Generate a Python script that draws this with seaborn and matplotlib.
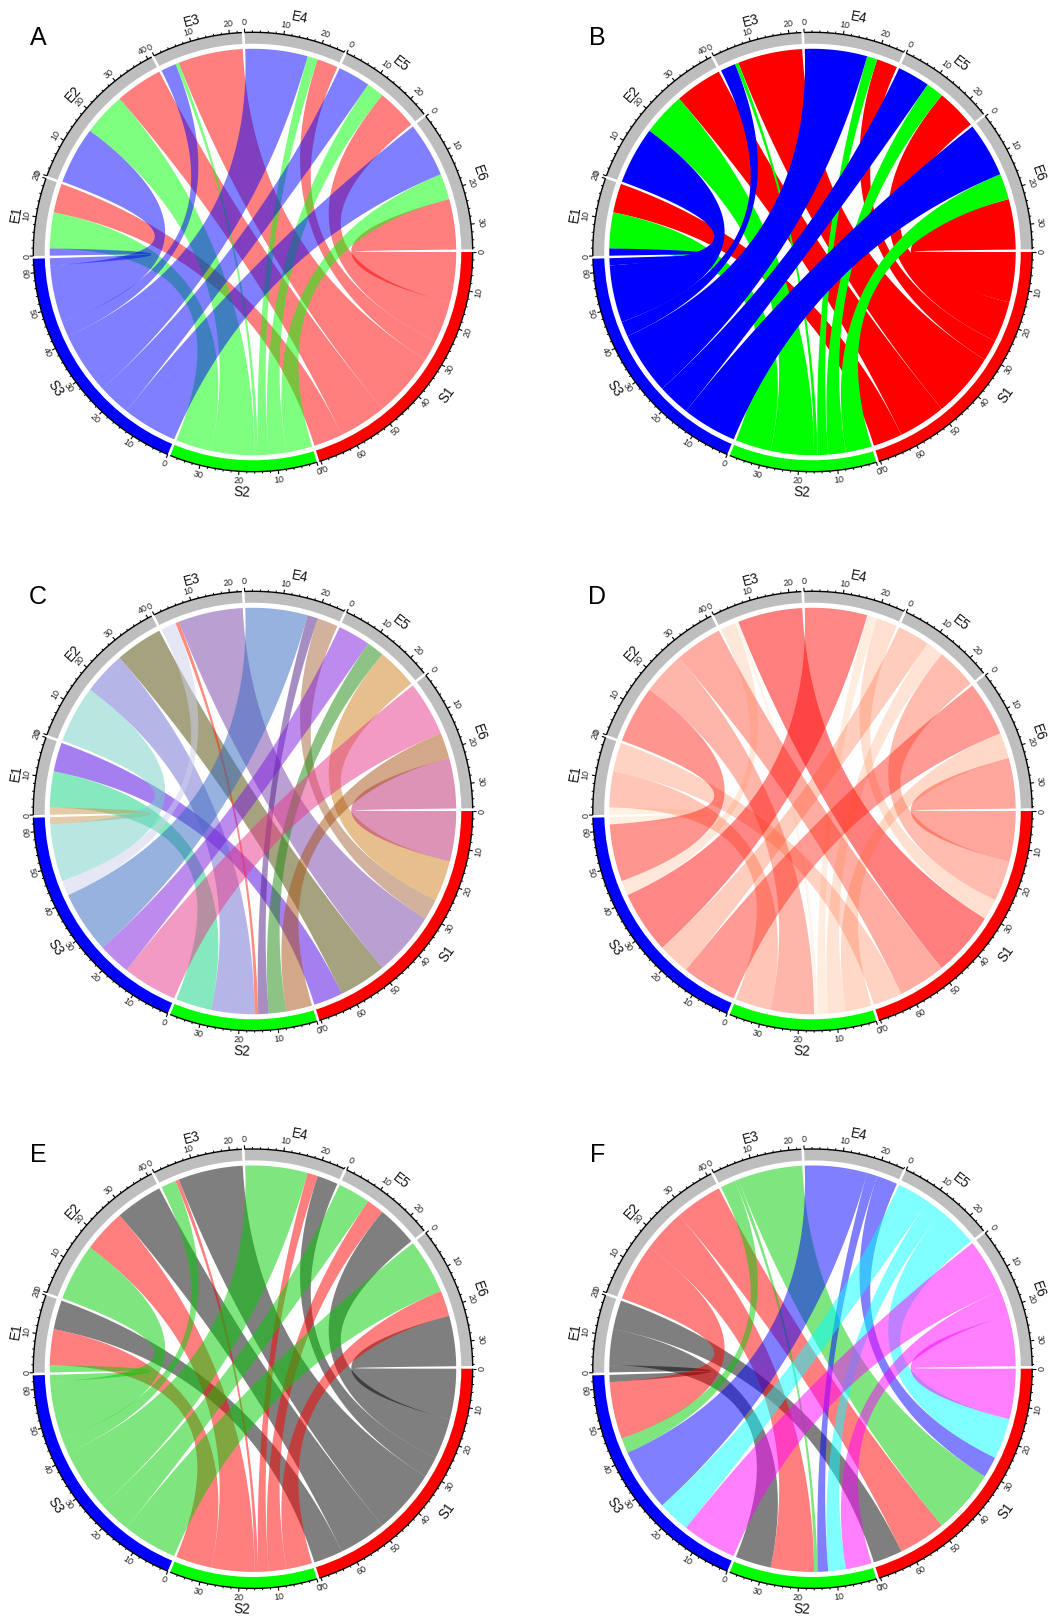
import numpy as np
import matplotlib
matplotlib.use("Agg")
import matplotlib.pyplot as plt
from matplotlib.patches import PathPatch, Wedge
from matplotlib.path import Path
import seaborn as sns

sns.set_theme(style="white")
plt.rcParams['font.family'] = ['Liberation Sans', 'DejaVu Sans']

# ---------- data ----------
sources = ["S1", "S2", "S3"]
targets = ["E1", "E2", "E3", "E4", "E5", "E6"]
s1_values = [8.1, 13.2, 18.0, 5.8, 11.3, 14.0]
s2_values = [9.95, 12.0, 1.0, 2.9, 4.9, 7.2]
s3_values = [2.0, 15.9, 4.2, 17.3, 9.0, 15.2]
panel_names = ["A", "B", "C", "D", "E", "F"]

source_track = ["#FF0000", "#00FF00", "#0000FF"]
target_track = "#BEBEBE"
by_source_abc = ["#FF0000", "#00FF00", "#0000FF"]
by_source_e = ["#000000", "#FF0000", "#00CD00"]
by_target_f = ["#000000", "#FF0000", "#00CD00", "#0000FF", "#00FFFF", "#FF00FF"]
random_s1 = ["#4D01E1", "#4D4701", "#7741A9", "#A7653D", "#CF811B", "#BB296D"]
random_s2 = ["#0FD57F", "#6D6FD1", "#FF1D01", "#4F1F89", "#1D8B0D", "#A75315"]
random_s3 = ["#CB9751", "#73D1C7", "#CDD1ED", "#3367C1", "#7D19DD", "#E73789"]

# ---------- layout (pixels of the 1049x1619 figure) ----------
W, H = 1049, 1619
R_PX = 219.7
CX = [253, 812.5]
CY = [252, 811, 1368.7]
HALF = 270
GAP = 0.7
R_TRACK = 0.948
R_LINK = 0.925

matrix = np.array([s1_values, s2_values, s3_values])
n_s, n_t = matrix.shape
row_sum = matrix.sum(axis=1)
col_sum = matrix.sum(axis=0)
K = (360 - GAP * (n_s + n_t)) / matrix.sum() / 2

sizes = list(row_sum) + list(col_sum)
names = sources + targets
starts = []
a = 0.0
for s in sizes:
    starts.append(a)
    a -= s * K + GAP

# interval of every link in both sectors (clockwise order inside sectors)
s_iv = {}
for i in range(n_s):
    pos = 0.0
    for j in range(n_t - 1, -1, -1):
        s_iv[(i, j)] = (starts[i] - pos * K, starts[i] - (pos + matrix[i, j]) * K)
        pos += matrix[i, j]
t_iv = {}
for j in range(n_t):
    pos = 0.0
    for i in range(n_s - 1, -1, -1):
        st = starts[n_s + j]
        t_iv[(i, j)] = (st - pos * K, st - (pos + matrix[i, j]) * K)
        pos += matrix[i, j]


def pol(deg, r):
    t = np.deg2rad(deg)
    return np.column_stack([r * np.cos(t), r * np.sin(t)])


def arc(a0, a1, r):
    n = max(3, int(abs(a1 - a0) * 2) + 2)
    return pol(np.linspace(a0, a1, n), r)


def curve(a0, a1, r):
    t = np.linspace(0, 1, 80)[:, None]
    p0 = pol(np.array([a0]), r)
    p1 = pol(np.array([a1]), r)
    return (1 - t) ** 2 * p0 + t ** 2 * p1


def link_path(i, j):
    s0, s1 = s_iv[(i, j)]
    t0, t1 = t_iv[(i, j)]
    pts = np.vstack([
        arc(s0, s1, R_LINK),
        curve(s1, t0, R_LINK),
        arc(t0, t1, R_LINK),
        curve(t1, s0, R_LINK),
    ])
    return Path(np.vstack([pts, pts[:1]]), closed=False)


def text_rot(deg):
    d = (deg + 180) % 360 - 180
    return d - 90 if 0 < d < 180 else d + 90


def draw_tracks(ax):
    for k, (name, size, st) in enumerate(zip(names, sizes, starts)):
        end = st - size * K
        col = source_track[k] if k < n_s else target_track
        ax.add_patch(Wedge((0, 0), 1.0, end, st, width=1.0 - R_TRACK,
                           facecolor=col, edgecolor="none", zorder=3))
        ax.plot(*arc(st, end, 1.0).T, color="black", lw=1.0, zorder=4,
                solid_capstyle="butt")
        for v in np.arange(0, size + 1e-6, 2):
            major = int(v) % 10 == 0
            ang = st - v * K
            ln = 0.017 if major else 0.009
            p = pol(np.array([ang, ang]), np.array([1.0, 1.0 + ln]))
            ax.plot(p[:, 0], p[:, 1], color="black", lw=0.8 if major else 0.7,
                    zorder=4, solid_capstyle="butt")
            if major:
                x, y = pol(np.array([ang]), 1.044)[0]
                ax.text(x, y, f"{int(v)}", fontsize=6.5, color="#222222",
                        rotation=text_rot(ang), rotation_mode="anchor",
                        ha="center", va="center", zorder=5)
        mid = st - size * K / 2
        x, y = pol(np.array([mid]), 1.092)[0]
        ax.text(x, y - 1.0 / R_PX, name, fontsize=9.8, color="#111111",
                rotation=text_rot(mid), rotation_mode="anchor",
                ha="center", va="center", zorder=5)


def style_for(panel, i, j):
    v = matrix[i, j]
    if panel == "A":
        return by_source_abc[i], 0.5
    if panel == "B":
        return by_source_abc[i], 1.0
    if panel == "C":
        return [random_s1, random_s2, random_s3][i][j], 0.5
    if panel == "D":
        t = v / matrix.max()
        return (1.0, 0.667 * (1 - t), 0.275 * (1 - t)), 0.09 + 0.41 * t
    if panel == "E":
        return by_source_e[i], 0.5
    return by_target_f[j], 0.5


fig = plt.figure(figsize=(W / 100, H / 100), dpi=100, facecolor="white")
for idx, panel in enumerate(panel_names):
    cx = CX[idx % 2]
    cy = CY[idx // 2]
    ax = fig.add_axes([(cx - HALF) / W, 1 - (cy + HALF) / H, 2 * HALF / W, 2 * HALF / H])
    lim = HALF / R_PX
    ax.set_xlim(-lim, lim)
    ax.set_ylim(-lim, lim)
    ax.set_aspect("equal")
    ax.patch.set_alpha(0)
    ax.set_xticks([])
    ax.set_yticks([])
    sns.despine(ax=ax, left=True, bottom=True)
    for i in range(n_s):
        for j in range(n_t):
            col, alpha = style_for(panel, i, j)
            ax.add_patch(PathPatch(link_path(i, j), facecolor=col, edgecolor="none",
                                   alpha=alpha, lw=0, zorder=2))
    draw_tracks(ax)
    ax.text(-215 / R_PX, 214 / R_PX, panel, fontsize=18,
            color="black", ha="center", va="center", zorder=6)

fig.savefig("out.png", dpi=100, facecolor="white")
